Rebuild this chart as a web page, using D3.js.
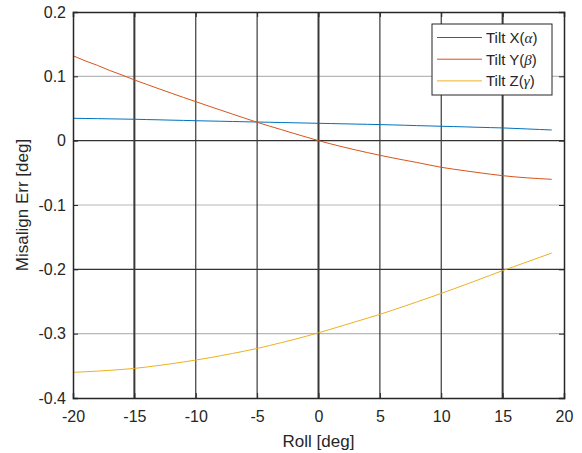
<!DOCTYPE html>
<html>
<head>
<meta charset="utf-8">
<script src="https://cdn.jsdelivr.net/npm/d3@7"></script>
<style>
  html, body { margin: 0; padding: 0; background: #fff; }
  svg { display: block; font-family: "Liberation Sans", Arial, sans-serif; }
</style>
</head>
<body>
<svg id="chart" width="582" height="453"></svg>
<script>
// Roll angle samples (deg)
const roll = d3.range(-20, 20, 1);

// Misalignment error per tilt axis (deg)
const tiltX = [0.0348, 0.0345, 0.0342, 0.0339, 0.0336, 0.0333, 0.0328, 0.0324, 0.0319, 0.0315,
               0.0310, 0.0306, 0.0302, 0.0298, 0.0294, 0.0290, 0.0286, 0.0282, 0.0278, 0.0274,
               0.0270, 0.0266, 0.0262, 0.0258, 0.0254, 0.0250, 0.0245, 0.0240, 0.0234, 0.0229,
               0.0224, 0.0219, 0.0214, 0.0208, 0.0203, 0.0198, 0.0190, 0.0182, 0.0174, 0.0166];
const tiltY = [0.132, 0.124, 0.117, 0.109, 0.102, 0.0944, 0.0875, 0.0806, 0.0739, 0.0672,
               0.0607, 0.0541, 0.0477, 0.0413, 0.0349, 0.0286, 0.0227, 0.0170, 0.0112, 0.0056,
               0.0000, -0.0050, -0.0098, -0.0143, -0.0186, -0.0227, -0.0266, -0.0303, -0.0338, -0.0377,
               -0.0414, -0.0443, -0.0470, -0.0496, -0.0521, -0.0544, -0.0563, -0.0578, -0.0590, -0.0601];
const tiltZ = [-0.3600, -0.3592, -0.3582, -0.3570, -0.3556, -0.3540, -0.3518, -0.3494, -0.3468, -0.3440,
               -0.3410, -0.3378, -0.3344, -0.3308, -0.3270, -0.3230, -0.3185, -0.3138, -0.3090, -0.3040,
               -0.2986, -0.2930, -0.2873, -0.2816, -0.2758, -0.2700, -0.2637, -0.2573, -0.2508, -0.2441,
               -0.2374, -0.2305, -0.2235, -0.2164, -0.2092, -0.2020, -0.1953, -0.1884, -0.1815, -0.1747];

const seriesNames = ["Tilt X", "Tilt Y", "Tilt Z"];
const greekSymbols = ["α", "β", "γ"];
const seriesColors = ["#0072BD", "#D95319", "#EDB120"];

const xTicks = [-20, -15, -10, -5, 0, 5, 10, 15, 20];
const yTicks = [-0.4, -0.3, -0.2, -0.1, 0, 0.1, 0.2];
const darkRows = [0, -0.2];   // horizontal reference lines drawn dark

const svg = d3.select("#chart");
const plot = { left: 73, right: 564, top: 12, bottom: 398 };

const x = d3.scaleLinear().domain([-20, 20]).range([plot.left, plot.right]);
const y = d3.scaleLinear().domain([-0.4, 0.2]).range([plot.bottom, plot.top]);

const textColor = "#262626";
// plain hyphen for negative numbers
const fmtX = d => String(d);
const fmtY = d => d === 0 ? "0" : d.toFixed(1);

// horizontal grid
svg.append("g").selectAll("line")
  .data(yTicks.filter(t => t > -0.4 && t < 0.2))
  .join("line")
  .attr("x1", plot.left).attr("x2", plot.right)
  .attr("y1", d => y(d)).attr("y2", d => y(d))
  .attr("stroke", d => darkRows.some(r => Math.abs(r - d) < 1e-9) ? "#333" : "#b8b8b8")
  .attr("stroke-width", 1.2);

// vertical grid
svg.append("g").selectAll("line")
  .data(xTicks.filter(t => t > -20 && t < 20))
  .join("line")
  .attr("x1", d => x(d)).attr("x2", d => x(d))
  .attr("y1", plot.top).attr("y2", plot.bottom)
  .attr("stroke", "#3a3a3a")
  .attr("stroke-width", d => d % 15 === 0 ? 2 : 1.2);

// data lines
const line = d3.line().x((d, i) => x(roll[i])).y(d => y(d));
[tiltX, tiltY, tiltZ].forEach((vals, k) => {
  svg.append("path")
    .datum(vals)
    .attr("fill", "none")
    .attr("stroke", seriesColors[k])
    .attr("stroke-width", 1)
    .attr("d", line);
});

// axes
const xAxis = d3.axisBottom(x).tickValues(xTicks).tickSize(-5).tickPadding(12.5).tickFormat(fmtX);
const yAxis = d3.axisLeft(y).tickValues(yTicks).tickSize(-5).tickPadding(7).tickFormat(fmtY);

const gx = svg.append("g").attr("transform", `translate(0,${plot.bottom})`).call(xAxis);
const gy = svg.append("g").attr("transform", `translate(${plot.left},0)`).call(yAxis);
const gyr = svg.append("g").attr("transform", `translate(${plot.right},0)`)
  .call(d3.axisRight(y).tickValues(yTicks).tickSize(-5).tickFormat(""));
const gxt = svg.append("g").attr("transform", `translate(0,${plot.top})`)
  .call(d3.axisTop(x).tickValues(xTicks).tickSize(-5).tickFormat(""));

[gx, gy, gyr, gxt].forEach(g => {
  g.select(".domain").attr("stroke", textColor).attr("stroke-width", 1.5);
  g.selectAll(".tick line").attr("stroke", textColor);
  g.selectAll(".tick text").attr("fill", textColor)
    .style("font-size", "16px").style("font-family", "Liberation Sans, Arial, sans-serif");
});

// axis titles
svg.append("text")
  .attr("x", x(0)).attr("y", 447)
  .attr("text-anchor", "middle")
  .attr("fill", textColor)
  .style("font-size", "17px")
  .text("Roll [deg]");

svg.append("text")
  .attr("transform", `translate(28,${y(-0.1)}) rotate(-90)`)
  .attr("text-anchor", "middle")
  .attr("fill", textColor)
  .style("font-size", "17px")
  .text("Misalign Err [deg]");

// legend
const legend = svg.append("g").attr("transform", "translate(432,24)");
legend.append("rect")
  .attr("width", 120).attr("height", 71)
  .attr("fill", "#fff").attr("stroke", "#262626").attr("stroke-width", 1);

seriesNames.forEach((name, k) => {
  const row = legend.append("g").attr("transform", `translate(0,${13.5 + k * 21.7})`);
  row.append("line")
    .attr("x1", 5).attr("x2", 50).attr("y1", 0).attr("y2", 0)
    .attr("stroke", seriesColors[k]).attr("stroke-width", 1);
  const t = row.append("text")
    .attr("x", 54).attr("y", 5.5)
    .attr("fill", textColor)
    .style("font-size", "15px");
  t.append("tspan").text(name + "(");
  t.append("tspan").style("font-style", "italic").style("font-family", "Liberation Serif, serif").text(greekSymbols[k]);
  t.append("tspan").text(")");
});
</script>
</body>
</html>
